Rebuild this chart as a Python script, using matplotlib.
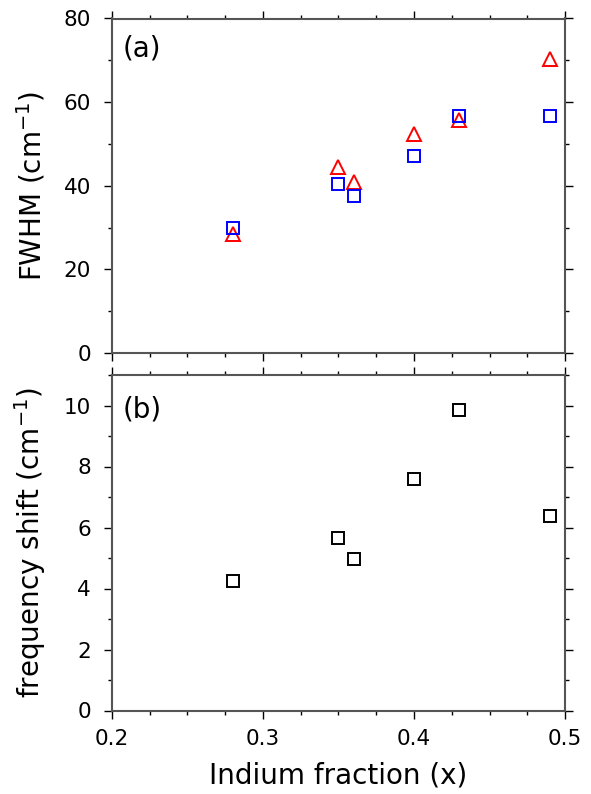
import numpy as np
import matplotlib
matplotlib.use("Agg")
import matplotlib.pyplot as plt
from matplotlib.ticker import MultipleLocator

# indium fraction x
x = [0.28, 0.35, 0.36, 0.40, 0.43, 0.49]

# panel (a): FWHM (cm-1)
fwhm_blue = [29.8, 40.5, 37.6, 47.0, 56.6, 56.6]
fwhm_red = [28.5, 44.6, 40.8, 52.3, 55.8, 70.4]

# panel (b): frequency shift (cm-1)
shift = [4.24, 5.66, 4.97, 7.6, 9.86, 6.37]

plt.rcParams['font.family'] = 'DejaVu Sans'
plt.rcParams['mathtext.fontset'] = 'dejavusans'

fig = plt.figure(figsize=(5.91, 7.94), dpi=100)
left, width = 112 / 591, (565 - 112) / 591
ax1 = fig.add_axes([left, 1 - 353 / 794, width, (353 - 18.5) / 794])
ax2 = fig.add_axes([left, 1 - 710.5 / 794, width, (710.5 - 375) / 794])

ax1.plot(x, fwhm_red, linestyle='none', marker='^', markersize=10,
         markerfacecolor='none', markeredgecolor='red', markeredgewidth=1.4)
ax1.plot(x, fwhm_blue, linestyle='none', marker='s', markersize=8.6,
         markerfacecolor='none', markeredgecolor='blue', markeredgewidth=1.4)
ax2.plot(x, shift, linestyle='none', marker='s', markersize=8.6,
         markerfacecolor='none', markeredgecolor='black', markeredgewidth=1.4)

ax1.set_ylim(0, 80)
ax2.set_ylim(0, 11)
for ax in (ax1, ax2):
    ax.set_xlim(0.2, 0.5)
    ax.xaxis.set_major_locator(MultipleLocator(0.1))
    ax.xaxis.set_minor_locator(MultipleLocator(0.025))
    ax.tick_params(which='both', direction='out', top=True, right=True,
                   labelsize=15.5, color='black')
    ax.tick_params(which='major', length=5.5, width=1.0)
    ax.tick_params(which='minor', length=3, width=1.0)
    ax.tick_params(axis='y', pad=9.5)
    ax.tick_params(axis='x', pad=8)
    for s in ax.spines.values():
        s.set_color('#555555')
        s.set_linewidth(1.5)

ax1.yaxis.set_major_locator(MultipleLocator(20))
ax1.yaxis.set_minor_locator(MultipleLocator(10))
ax2.yaxis.set_major_locator(MultipleLocator(2))
ax2.yaxis.set_minor_locator(MultipleLocator(1))
ax1.tick_params(axis='x', labelbottom=False)
ax2.set_xticks([0.2, 0.3, 0.4, 0.5])
ax2.set_xticklabels(['0.2', '0.3', '0.4', '0.5'])

ax1.set_ylabel(r'FWHM (cm$^{\mathregular{-1}}$)', fontsize=20)
ax2.set_ylabel(r'frequency shift (cm$^{\mathregular{-1}}$)', fontsize=20)
ax2.set_xlabel('Indium fraction (x)', fontsize=20)
ax1.yaxis.set_label_coords(-0.143, 0.5)
ax2.yaxis.set_label_coords(-0.141, 0.5)
ax2.xaxis.set_label_coords(0.5, -0.152)

ax1.text(0.024, 0.951, '(a)', transform=ax1.transAxes, fontsize=20, va='top', ha='left')
ax2.text(0.024, 0.94, '(b)', transform=ax2.transAxes, fontsize=20, va='top', ha='left')

fig.savefig('out.png', dpi=100)
